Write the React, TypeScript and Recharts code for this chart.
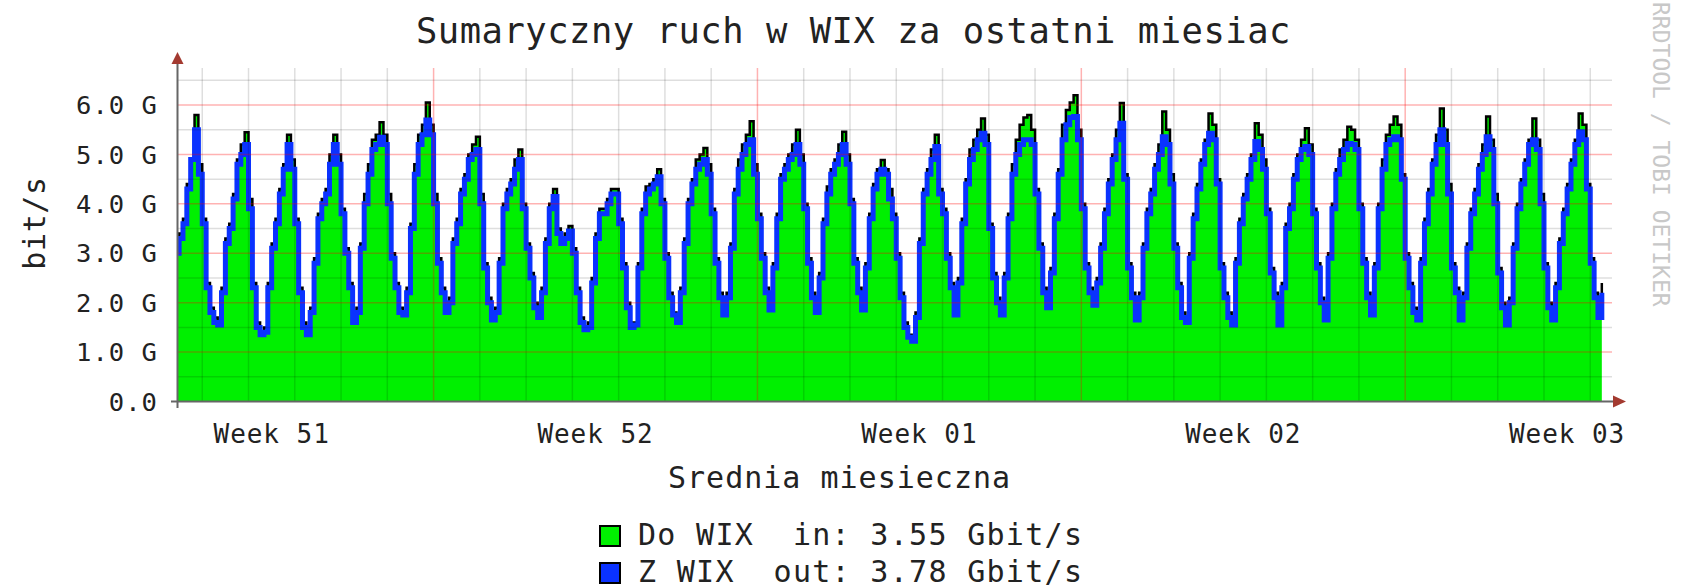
import { Area, ComposedChart, Line, ReferenceLine, XAxis, YAxis } from "recharts";

// 2-hour averages, Gbit/s. First slot starts at 10:00 on day 0.
const inbound = [
  3.0, 3.4, 3.7, 4.4, 4.9, 5.8, 4.8, // day 0 (from 10h)
  3.7, 2.4, 1.9, 1.7, 1.6, 2.3, 3.3, 3.6, 4.2, 4.9, 5.2, 5.45,
  4.1, 2.4, 1.6, 1.4, 1.5, 2.4, 3.2, 3.7, 4.3, 4.8, 5.4, 4.9,
  3.7, 2.3, 1.6, 1.4, 1.9, 2.9, 3.8, 4.1, 4.3, 5.0, 5.4, 5.0,
  3.9, 3.1, 2.4, 1.7, 1.9, 3.2, 4.2, 4.8, 5.3, 5.4, 5.65, 5.4,
  4.2, 3.0, 2.4, 1.9, 1.8, 2.3, 3.6, 4.8, 5.4, 5.6, 6.05, 5.6,
  4.2, 2.9, 2.3, 1.9, 2.1, 3.3, 3.7, 4.3, 4.6, 5.0, 5.2, 5.36,
  4.2, 2.8, 2.1, 1.7, 1.9, 2.9, 4.0, 4.3, 4.5, 4.9, 5.1, 4.0,
  3.2, 2.6, 2.0, 1.75, 2.3, 3.3, 4.0, 4.3, 3.5, 3.3, 3.4, 3.55,
  3.1, 2.3, 1.7, 1.5, 1.6, 2.5, 3.4, 3.9, 3.9, 4.1, 4.3, 4.3,
  3.7, 2.8, 2.0, 1.6, 1.6, 2.8, 3.9, 4.35, 4.4, 4.5, 4.7, 4.1,
  3.0, 2.2, 1.8, 1.65, 2.3, 3.3, 4.1, 4.5, 4.9, 5.0, 5.13, 4.8,
  3.9, 2.9, 2.2, 1.8, 2.2, 3.2, 4.3, 4.9, 5.2, 5.4, 5.67, 4.8,
  3.8, 3.0, 2.3, 1.9, 2.8, 3.8, 4.6, 4.8, 5.0, 5.2, 5.5, 5.0,
  4.0, 2.9, 2.2, 1.85, 2.6, 3.7, 4.35, 4.7, 4.9, 5.2, 5.46, 5.0,
  4.1, 2.9, 2.3, 1.9, 2.8, 3.8, 4.4, 4.7, 4.89, 4.7, 4.3, 3.8,
  3.0, 2.2, 1.6, 1.35, 1.25, 1.8, 3.3, 4.3, 4.7, 5.1, 5.4, 4.3,
  3.9, 3.0, 2.4, 1.8, 2.5, 3.7, 4.5, 5.1, 5.3, 5.5, 5.73, 5.4,
  3.6, 2.6, 2.1, 1.8, 2.6, 3.8, 4.8, 5.3, 5.6, 5.75, 5.8, 5.5,
  4.3, 3.2, 2.3, 1.95, 2.7, 3.8, 4.7, 5.6, 5.9, 6.05, 6.2, 5.5,
  4.0, 2.8, 2.3, 2.0, 2.5, 3.2, 3.9, 4.5, 5.0, 5.5, 6.04, 4.6,
  2.8, 2.2, 1.7, 2.2, 3.2, 3.9, 4.3, 4.8, 5.2, 5.87, 5.5, 4.6,
  3.2, 2.4, 1.8, 1.7, 3.0, 3.8, 4.4, 4.9, 5.3, 5.83, 5.6, 4.5,
  2.8, 2.2, 1.8, 1.6, 2.9, 3.7, 4.2, 4.6, 5.0, 5.63, 5.4, 4.9,
  3.9, 2.7, 2.2, 1.6, 2.4, 3.6, 4.0, 4.6, 5.0, 5.3, 5.53, 5.2,
  3.9, 2.8, 2.1, 1.7, 3.0, 4.0, 4.7, 5.1, 5.3, 5.56, 5.5, 5.3,
  4.0, 2.9, 2.2, 1.8, 2.8, 4.0, 4.9, 5.4, 5.6, 5.77, 5.6, 4.6,
  3.0, 2.4, 1.9, 1.7, 2.9, 3.7, 4.3, 4.9, 5.4, 5.93, 5.5, 4.4,
  2.8, 2.3, 1.7, 2.2, 3.2, 3.9, 4.3, 4.8, 5.2, 5.77, 5.3, 4.2,
  2.7, 2.0, 1.6, 2.1, 3.2, 4.0, 4.5, 4.9, 5.3, 5.73, 5.3, 4.2,
  2.8, 2.0, 1.7, 2.4, 3.3, 3.9, 4.4, 4.9, 5.3, 5.83, 5.6, 4.4,
  2.9, 2.2, 1.75, 2.4, // day 31 (up to 8h)
];

const outbound = [
  3.0, 3.3, 3.6, 4.3, 4.9, 5.5, 4.6,
  3.6, 2.3, 1.8, 1.6, 1.55, 2.2, 3.2, 3.5, 4.1, 4.8, 5.0, 5.2,
  3.9, 2.3, 1.5, 1.35, 1.4, 2.3, 3.1, 3.6, 4.2, 4.7, 5.2, 4.7,
  3.6, 2.2, 1.5, 1.35, 1.8, 2.8, 3.7, 4.0, 4.2, 4.8, 5.2, 4.8,
  3.8, 3.0, 2.3, 1.6, 1.8, 3.1, 4.0, 4.6, 5.1, 5.2, 5.35, 5.2,
  4.0, 2.9, 2.3, 1.8, 1.75, 2.2, 3.5, 4.6, 5.2, 5.4, 5.7, 5.4,
  4.0, 2.8, 2.2, 1.8, 2.0, 3.2, 3.6, 4.2, 4.5, 4.9, 5.0, 5.1,
  4.0, 2.7, 2.0, 1.65, 1.8, 2.8, 3.9, 4.2, 4.4, 4.7, 4.9, 3.9,
  3.1, 2.5, 1.9, 1.7, 2.2, 3.2, 3.9, 4.15, 3.4, 3.2, 3.3, 3.45,
  3.0, 2.2, 1.6, 1.45, 1.5, 2.4, 3.3, 3.8, 3.8, 4.0, 4.2, 4.2,
  3.6, 2.7, 1.9, 1.5, 1.55, 2.7, 3.8, 4.2, 4.3, 4.4, 4.55, 4.0,
  2.9, 2.1, 1.75, 1.6, 2.2, 3.2, 4.0, 4.4, 4.7, 4.8, 4.9, 4.6,
  3.8, 2.8, 2.1, 1.75, 2.1, 3.1, 4.2, 4.7, 5.0, 5.2, 5.3, 4.6,
  3.7, 2.9, 2.2, 1.85, 2.7, 3.7, 4.5, 4.7, 4.9, 5.0, 5.2, 4.8,
  3.9, 2.8, 2.1, 1.8, 2.5, 3.6, 4.2, 4.6, 4.8, 5.0, 5.2, 4.8,
  4.0, 2.8, 2.2, 1.85, 2.7, 3.7, 4.3, 4.6, 4.7, 4.6, 4.1, 3.7,
  2.9, 2.1, 1.5, 1.3, 1.22, 1.7, 3.2, 4.2, 4.6, 4.9, 5.16, 4.2,
  3.8, 2.9, 2.3, 1.75, 2.4, 3.6, 4.4, 4.9, 5.1, 5.3, 5.43, 5.2,
  3.5, 2.5, 2.0, 1.75, 2.5, 3.7, 4.6, 5.0, 5.2, 5.3, 5.3, 5.2,
  4.2, 3.1, 2.2, 1.9, 2.6, 3.7, 4.6, 5.3, 5.6, 5.75, 5.77, 5.3,
  3.9, 2.7, 2.2, 1.95, 2.4, 3.1, 3.8, 4.4, 4.9, 5.3, 5.63, 4.5,
  2.7, 2.1, 1.65, 2.1, 3.1, 3.8, 4.2, 4.7, 5.0, 5.36, 5.2, 4.4,
  3.1, 2.3, 1.7, 1.6, 2.9, 3.7, 4.3, 4.8, 5.2, 5.43, 5.3, 4.4,
  2.7, 2.1, 1.7, 1.55, 2.8, 3.6, 4.1, 4.5, 4.9, 5.26, 5.1, 4.7,
  3.8, 2.6, 2.1, 1.55, 2.3, 3.5, 3.9, 4.5, 4.9, 5.1, 5.16, 5.0,
  3.8, 2.7, 2.0, 1.65, 2.9, 3.9, 4.6, 4.9, 5.1, 5.22, 5.2, 5.1,
  3.9, 2.8, 2.1, 1.75, 2.7, 3.9, 4.7, 5.2, 5.3, 5.36, 5.3, 4.5,
  2.9, 2.3, 1.8, 1.65, 2.8, 3.6, 4.2, 4.8, 5.2, 5.5, 5.2, 4.2,
  2.7, 2.2, 1.65, 2.1, 3.1, 3.8, 4.2, 4.7, 5.0, 5.36, 5.1, 4.0,
  2.6, 1.9, 1.55, 2.0, 3.1, 3.9, 4.4, 4.8, 5.2, 5.3, 5.1, 4.0,
  2.7, 1.9, 1.65, 2.3, 3.2, 3.8, 4.3, 4.8, 5.2, 5.46, 5.3, 4.3,
  2.8, 2.1, 1.7, 2.2,
];

const firstSlotHour = 10;
const slotHours = 2;

const weekLabels = ["Week 51", "Week 52", "Week 01", "Week 02", "Week 03"];
const weekLabelDays = [2.5, 9.5, 16.5, 23.5, 30.5];
const weekStartDays = [6, 13, 20, 27];
const yTicks = [0, 1, 2, 3, 4, 5, 6];
const yTickLabels = ["0.0", "1.0 G", "2.0 G", "3.0 G", "4.0 G", "5.0 G", "6.0 G"];
const yMinor = [0.5, 1.5, 2.5, 3.5, 4.5, 5.5, 6.5];
const dayLines = Array.from({ length: 31 }, (_, i) => i + 1).filter((d) => !weekStartDays.includes(d));

const legendRows = [
  { color: "#00f000", text: "Do WIX  in: 3.55 Gbit/s" },
  { color: "#0a32ff", text: "Z WIX  out: 3.78 Gbit/s" },
];

const rows = inbound.map((v, i) => ({
  t: (firstSlotHour + i * slotHours) / 24,
  in: v,
  out: outbound[i],
}));

const W = 1685;
const H = 588;
const plotLeft = 177.5;
const plotRight = 1612;
const plotTop = 68;
const plotBottom = 401.5;
const mono = '"DejaVu Sans Mono", monospace';
const ink = "#222";
const gridGray = "rgba(0,0,0,0.13)";
const gridRed = "rgba(255,0,0,0.3)";
const arrowRed = "#a33a30";

const XTick = (props: any) => {
  const i = weekLabelDays.indexOf(props.payload.value);
  return (
    <text x={props.x} y={plotBottom + 41.5} textAnchor="middle" fontFamily={mono} fontSize={26} letterSpacing={0.95} fill={ink}>
      {weekLabels[i]}
    </text>
  );
};

const YTick = (props: any) => {
  const i = yTicks.indexOf(props.payload.value);
  return (
    <text x={props.x} y={props.y} dy="0.36em" textAnchor="end" fontFamily={mono} fontSize={25.5} letterSpacing={1.05} fill={ink}>
      {yTickLabels[i]}
    </text>
  );
};

export default function App() {
  return (
    <div style={{ position: "absolute", left: 0, top: 0, width: W, height: H, background: "#fff", overflow: "hidden" }}>
      <div style={{ position: "absolute", left: 0, top: 0 }}>
        <ComposedChart
          width={W}
          height={H}
          data={rows}
          margin={{ top: plotTop, right: W - plotRight, bottom: H - plotBottom - 30, left: plotLeft - 60 }}
        >
          <XAxis
            type="number"
            dataKey="t"
            domain={[0.465, 31.47]}
            allowDataOverflow
            ticks={weekLabelDays}
            interval={0}
            height={30}
            tickSize={0}
            tickMargin={0}
            axisLine={false}
            tickLine={false}
            tick={XTick}
          />
          <YAxis
            type="number"
            domain={[0, 6.75]}
            allowDataOverflow
            ticks={yTicks}
            interval={0}
            width={60}
            tickSize={0}
            tickMargin={19.5}
            axisLine={false}
            tickLine={false}
            tick={YTick}
          />
          <Area
            dataKey="in"
            type="stepAfter"
            fill="#00f000"
            fillOpacity={1}
            stroke="#000"
            strokeWidth={2.5}
            isAnimationActive={false}
          />
          <Line
            dataKey="out"
            type="stepAfter"
            stroke="#0a32ff"
            strokeWidth={5}
            dot={false}
            isAnimationActive={false}
          />
          {yMinor.map((v) => (
            <ReferenceLine key={"hm" + v} y={v} stroke={gridGray} strokeWidth={1.5} />
          ))}
          {dayLines.map((d) => (
            <ReferenceLine key={"vd" + d} x={d} stroke={gridGray} strokeWidth={1.5} />
          ))}
          {yTicks.slice(1).map((v) => (
            <ReferenceLine key={"hM" + v} y={v} stroke={gridRed} strokeWidth={1.5} />
          ))}
          {weekStartDays.map((d) => (
            <ReferenceLine key={"vw" + d} x={d} stroke={gridRed} strokeWidth={1.5} />
          ))}
        </ComposedChart>
      </div>

      <svg width={W} height={H} style={{ position: "absolute", left: 0, top: 0, pointerEvents: "none" }}>
        {/* axes with arrow heads */}
        <line x1={plotLeft} y1={62} x2={plotLeft} y2={408} stroke="#666" strokeWidth={2} />
        <line x1={171} y1={plotBottom} x2={1614} y2={plotBottom} stroke="#666" strokeWidth={2} />
        <polygon points={`${plotLeft},52 ${plotLeft - 6},64 ${plotLeft + 6},64`} fill={arrowRed} />
        <polygon points={`1626,${plotBottom} 1613,${plotBottom - 6} 1613,${plotBottom + 6}`} fill={arrowRed} />

        <text x={416} y={43} fontFamily={mono} fontSize={35.5} letterSpacing={0.5} fill={ink}>
          Sumaryczny ruch w WIX za ostatni miesiac
        </text>
        <text
          x={45}
          y={223}
          transform="rotate(-90, 45, 223)"
          textAnchor="middle"
          fontFamily={mono}
          fontSize={30}
          letterSpacing={0.6}
          fill={ink}
        >
          bit/s
        </text>
        <text x={668} y={488} fontFamily={mono} fontSize={30} letterSpacing={1.0} fill={ink}>
          Srednia miesieczna
        </text>

        {legendRows.map((r, i) => (
          <g key={r.text}>
            <rect x={600} y={526 + i * 37} width={20} height={20} fill={r.color} stroke="#000" strokeWidth={2} />
            <text
              x={638}
              y={545 + i * 37.2}
              fontFamily={mono}
              fontSize={30}
              letterSpacing={1.3}
              fill={ink}
              style={{ whiteSpace: "pre" }}
            >
              {r.text}
            </text>
          </g>
        ))}

        <text
          x={1653}
          y={2}
          transform="rotate(90, 1653, 2)"
          fontFamily={mono}
          fontSize={23}
          fill="#c8c8c8"
        >
          RRDTOOL / TOBI OETIKER
        </text>
      </svg>
    </div>
  );
}
